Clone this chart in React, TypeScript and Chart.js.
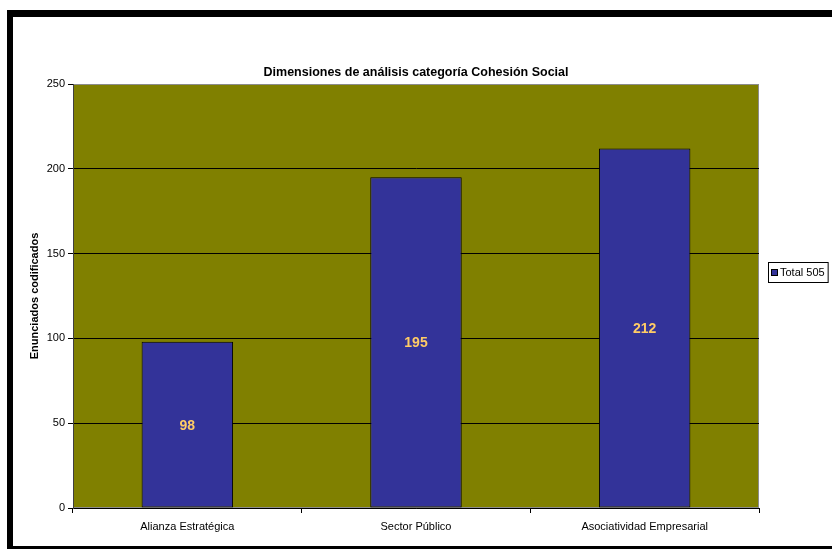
import React, { useEffect, useRef } from "react";
import { Chart, registerables } from "chart.js";

Chart.register(...registerables);

const TITLE = "Dimensiones de análisis categoría Cohesión Social";
const Y_TITLE = "Enunciados codificados";
const categories = ["Alianza Estratégica", "Sector Público", "Asociatividad Empresarial"];
const seriesLabel = "Total 505";
const values = [98, 195, 212];
const yTicks = [0, 50, 100, 150, 200, 250];

const FONT = "'Liberation Sans', Arial, sans-serif";

const plotBg = {
  id: "plotBg",
  beforeDraw(chart: any) {
    const { ctx, chartArea: a } = chart;
    ctx.save();
    ctx.fillStyle = "#808000";
    ctx.fillRect(a.left, a.top, a.right - a.left, a.bottom - a.top);
    ctx.strokeStyle = "#8c8c8c";
    ctx.lineWidth = 1;
    ctx.strokeRect(a.left + 0.5, a.top + 0.5, a.right - a.left - 1, a.bottom - a.top - 1);
    ctx.restore();
  },
};

const centeredTitle = {
  id: "centeredTitle",
  afterDraw(chart: any) {
    const { ctx } = chart;
    ctx.save();
    ctx.font = `bold 12.5px ${FONT}`;
    ctx.fillStyle = "#000000";
    ctx.textAlign = "center";
    ctx.textBaseline = "middle";
    ctx.fillText(TITLE, chart.width / 2, 73);
    ctx.restore();
  },
};

const valueLabels = {
  id: "valueLabels",
  afterDatasetsDraw(chart: any) {
    const { ctx } = chart;
    const meta = chart.getDatasetMeta(0);
    ctx.save();
    ctx.font = `bold 14px ${FONT}`;
    ctx.fillStyle = "#FFCC66";
    ctx.textAlign = "center";
    ctx.textBaseline = "middle";
    meta.data.forEach((bar: any, i: number) => {
      const y = (bar.y + bar.base) / 2;
      ctx.fillText(String(chart.data.datasets[0].data[i]), bar.x, y + 1);
    });
    ctx.restore();
  },
};

const boxedLegend = {
  id: "boxedLegend",
  afterDraw(chart: any) {
    const { ctx } = chart;
    const ds = chart.data.datasets[0];
    const x = 768;
    const y = 262;
    ctx.save();
    ctx.font = `11px ${FONT}`;
    const tw = ctx.measureText(ds.label).width;
    const w = 3 + 7 + 2 + tw + 3;
    const h = 20;
    ctx.fillStyle = "#ffffff";
    ctx.fillRect(x, y, w, h);
    ctx.strokeStyle = "#000000";
    ctx.lineWidth = 1;
    ctx.strokeRect(x + 0.5, y + 0.5, w, h);
    ctx.fillStyle = ds.backgroundColor;
    ctx.fillRect(x + 3, y + 7, 7, 7);
    ctx.strokeRect(x + 3.5, y + 7.5, 6, 6);
    ctx.fillStyle = "#000000";
    ctx.textBaseline = "middle";
    ctx.fillText(ds.label, x + 12, y + h / 2 + 1);
    ctx.restore();
  },
};

export default function App() {
  const ref = useRef<HTMLCanvasElement | null>(null);
  useEffect(() => {
    if (!ref.current) return;
    const chart = new Chart(ref.current, {
      type: "bar",
      data: {
        labels: categories,
        datasets: [
          {
            label: seriesLabel,
            data: values,
            backgroundColor: "#333399",
            borderColor: "#000000",
            borderWidth: 1,
            borderSkipped: false,
            barPercentage: 0.4,
            categoryPercentage: 1,
          },
        ],
      },
      options: {
        animation: false,
        responsive: false,
        maintainAspectRatio: false,
        layout: { padding: { left: 0, right: 73, top: 84, bottom: 0 } },
        plugins: {
          legend: { display: false },
          tooltip: { enabled: false },
          title: { display: false },
        },
        scales: {
          x: {
            grid: {
              display: true,
              drawOnChartArea: false,
              drawTicks: true,
              tickLength: 5,
              color: "#000000",
              offset: true,
            },
            border: { display: true, color: "#000000" },
            ticks: {
              color: "#000000",
              font: { family: FONT, size: 11 },
              padding: 7,
              maxRotation: 0,
            },
            afterFit(scale: any) {
              scale.height = 41;
            },
          },
          y: {
            min: 0,
            max: 250,
            afterBuildTicks(scale: any) {
              scale.ticks = yTicks.map((v) => ({ value: v }));
            },
            grid: {
              color: (c: any) => (c.tick && c.tick.value === 250 ? "#8c8c8c" : "#000000"),
              tickColor: "#000000",
              tickLength: 5,
              drawTicks: true,
            },
            border: { display: true, color: "#404040" },
            ticks: {
              color: "#000000",
              font: { family: FONT, size: 11 },
              padding: 3,
            },
            title: {
              display: true,
              text: Y_TITLE,
              color: "#000000",
              font: { family: FONT, size: 11, weight: "bold" },
              padding: { top: 28, bottom: 0 },
            },
            afterFit(scale: any) {
              scale.width = 73;
            },
          },
        },
      },
      plugins: [plotBg, valueLabels, centeredTitle, boxedLegend],
    });
    return () => chart.destroy();
  }, []);

  return (
    <div
      style={{
        position: "fixed",
        left: 0,
        top: 0,
        width: 832,
        height: 549,
        background: "#ffffff",
        overflow: "hidden",
      }}
    >
      <div
        style={{
          position: "absolute",
          left: 7,
          top: 10,
          width: 850,
          height: 540,
          borderLeft: "6px solid #000",
          borderTop: "7px solid #000",
          borderBottom: "4px solid #000",
          boxSizing: "border-box",
        }}
      />
      <canvas
        ref={ref}
        width={832}
        height={549}
        style={{ position: "absolute", left: 0, top: 0, width: 832, height: 549 }}
      />
    </div>
  );
}
